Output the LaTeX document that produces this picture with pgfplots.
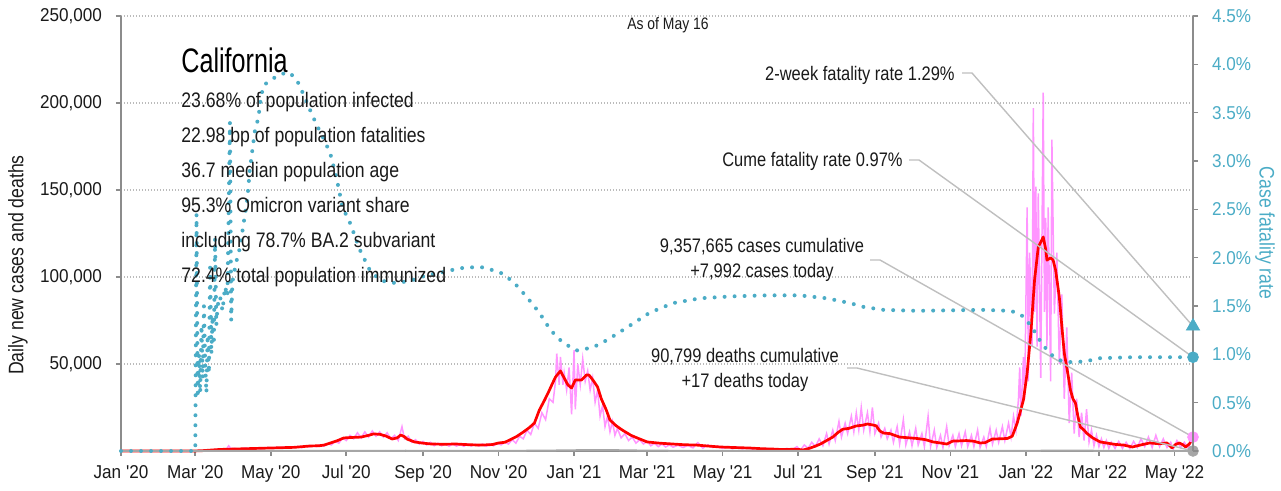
\documentclass[border=0pt]{standalone}
\usepackage{fontspec}
\setmainfont{Liberation Sans}[FakeStretch=0.84]
\newfontfamily\tickfont{Liberation Sans}[FakeStretch=0.92]
\newfontfamily\titlefont{Liberation Sans}[FakeStretch=0.74]
\usepackage{pgfplots}
\pgfplotsset{compat=1.18}
\usepackage{pgfplotstable}

\definecolor{cfrblue}{HTML}{4BACC6}
\definecolor{pinkc}{HTML}{FF95FF}
\definecolor{axgray}{HTML}{8C8C8C}
\definecolor{gridgray}{HTML}{BBBBBB}
\definecolor{leader}{HTML}{BFBFBF}
\definecolor{textc}{HTML}{1A1A1A}
\definecolor{deathgray}{HTML}{A6A6A6}

\pgfplotstableread{
day val
0 0
55 0
60 30
66 200
72 500
78 800
84 1000
90 1100
100 1300
110 1500
120 1700
130 1900
140 2100
153 2900
160 3000
164 3400
170 4800
175 6000
180 7500
187 7800
194 8000
200 9000
204 9800
209 9600
214 8600
219 6900
223 7500
226 9200
229 8200
231 6900
237 5200
244 4500
251 4000
260 3900
271 4000
281 3600
291 3400
300 3700
305 4600
310 5000
314 6300
320 8500
325 10900
330 13500
334 16100
338 23600
342 29000
345 33300
348 38000
351 42500
355 46000
358 42000
361 38000
364 36200
367 40800
372 40800
376 43700
378 43700
381 41000
385 36800
388 30000
392 23600
395 17800
400 14500
405 12000
412 9000
417 7500
425 5200
435 4500
446 4000
455 3600
465 3400
475 2800
484 2300
495 2000
508 1700
518 1300
527 1100
535 800
543 1000
547 900
551 600
556 1500
561 2800
565 4000
570 6000
575 8000
579 10500
583 12500
588 13000
594 14400
599 14800
603 15500
607 15000
610 14500
613 11500
616 10300
621 10000
625 9000
629 8000
636 7600
643 7200
650 6500
656 5200
662 4600
667 4000
672 5700
677 5800
683 6000
689 5600
694 4600
698 4800
704 6900
710 7000
716 7200
720 8500
724 16100
727 24000
729 29300
732 44800
735 67800
738 98300
741 117200
743 120000
745 123000
747 116000
748 109700
751 111000
753 109700
755 104000
758 88500
760 72000
762 56300
765 44000
767 35000
769 30000
771 27600
773 20000
775 13800
778 12000
780 10300
785 7500
791 5200
797 4500
803 3800
810 3400
817 2300
824 3500
831 4600
838 4200
845 4600
849 1700
852 3800
855 4600
858 3500
860 2300
863 4000
866 7500
}\reddata

\pgfplotstableread{
day val
0 0
58 0
62 50
66 150
70 300
74 500
78 900
82 1200
85 900
87 3000
89 1200
92 1500
95 1000
98 1400
101 1700
104 1000
107 1600
110 1800
113 1200
116 1900
119 2000
122 1500
125 2100
128 1700
131 2200
134 1600
137 2300
140 2000
143 2600
146 1900
149 2800
152 2400
155 3000
158 2500
161 3600
164 2800
167 4200
170 3500
173 5500
176 4500
179 7500
182 6000
185 9000
188 7000
191 10500
194 7500
197 11000
200 8000
203 11500
206 8500
209 11000
212 8000
215 10500
218 7000
221 9000
224 6000
227 14000
229 7000
232 8500
235 5000
238 6500
241 4000
244 5500
247 3500
250 5000
253 3000
256 4500
259 3000
262 4000
265 2800
268 4000
271 2800
274 3800
277 2700
280 4000
283 2800
286 3900
289 2800
292 4000
295 2700
298 4200
301 3000
304 4500
307 3500
310 5000
313 4000
316 6500
319 4500
322 8500
325 7000
328 12000
331 9500
334 16000
337 13000
340 22000
343 18000
346 30000
349 28000
351 40000
352 56000
354 38000
355 54000
357 38000
358 45000
360 35000
362 48000
364 21000
366 58000
367 24000
369 50000
371 38000
373 53000
375 40000
377 46000
379 35000
381 42000
383 28000
385 35000
387 20000
389 26000
391 14000
393 20000
395 11000
397 17000
399 9000
401 13000
404 7500
407 10000
410 6000
413 8000
416 4500
419 6500
422 4000
425 5500
428 3000
431 4500
434 2500
437 4000
440 2300
443 3500
446 2200
450 3300
454 2000
458 3200
462 1800
466 4800
470 1600
474 3500
478 2000
482 2800
486 1500
490 2500
494 1300
498 2200
502 1200
506 1900
510 1000
514 1700
518 900
522 1500
526 800
530 1300
534 700
538 1500
542 600
546 2500
549 500
552 3500
555 1500
558 5000
561 2500
564 7000
567 3000
570 10000
572 4000
575 12000
577 6000
580 17000
582 8000
585 16000
587 10000
590 20000
592 11000
594 22000
596 12000
598 25000
600 12000
603 22000
605 11000
607 25000
609 10000
612 16000
614 8000
617 13000
619 7000
622 12000
624 5000
627 14000
629 4000
632 18000
634 3500
637 11000
639 3000
642 13000
644 3500
647 10000
649 2500
652 20000
654 2500
657 12000
659 2000
662 9000
664 2000
667 14000
669 3000
672 9000
674 2500
677 10000
679 3000
682 11000
684 2500
687 9000
689 2500
692 12000
694 2000
697 8000
699 2500
702 13000
704 4000
707 12000
709 5000
712 14000
714 6000
717 16000
719 8000
721 20000
723 12000
725 30000
726 48000
727 20000
729 54000
730 30000
732 140000
733 40000
734 114000
736 60000
737 197000
738 80000
739 152000
740 60000
741 148000
743 42000
745 206000
746 80000
747 134000
748 60000
749 140000
751 40000
752 179000
754 79000
756 114000
758 50000
760 90000
762 30000
764 71000
766 16000
768 45000
770 10000
772 30000
774 8000
776 22000
778 6000
780 24000
782 5000
784 12000
786 3000
788 9000
790 2500
792 7000
794 2000
796 6000
798 1500
800 5000
803 1500
806 5500
809 1500
812 5000
815 1500
818 5500
821 2000
824 7000
827 2500
830 8000
833 2000
836 9000
839 2500
842 7000
845 2000
848 5000
850 1000
853 6000
856 2000
859 5000
862 1500
866 7992
}\pinkdata

\pgfplotstableread{
day val
0 0
60 0
80 40
100 80
130 70
160 60
200 110
230 140
260 100
300 50
340 180
370 450
385 550
400 450
420 250
450 100
500 40
560 15
600 70
650 80
700 50
740 120
760 250
790 120
820 30
866 17
}\deathdata

\pgfplotstableread{
day val
0 0
60 0
61 2.45
62 0.55
63 1.0
64 0.6
65 1.3
66 0.75
67 1.5
68 0.9
69 0.6
70 1.2
71 0.8
72 1.9
73 1.0
74 1.4
75 1.1
76 2.2
77 1.3
78 1.5
80 1.6
82 1.45
84 1.7
86 1.6
88 3.4
89 1.35
90 1.75
93 1.95
96 2.1
99 2.35
102 2.6
104 2.9
106 3.1
108 3.3
111 3.45
113 3.65
115 3.78
120 3.83
125 3.87
130 3.9
135 3.92
139 3.88
142 3.84
147 3.70
151 3.58
155 3.46
159 3.35
163 3.25
169 3.08
174 2.83
179 2.52
185 2.36
193 2.08
201 1.87
209 1.77
217 1.74
225 1.74
236 1.77
245 1.81
255 1.84
260 1.85
270 1.88
279 1.90
292 1.90
306 1.85
317 1.75
328 1.59
338 1.43
347 1.25
357 1.12
368 1.04
381 1.07
393 1.15
409 1.28
427 1.43
446 1.53
468 1.58
494 1.60
522 1.61
548 1.61
570 1.58
589 1.53
600 1.49
616 1.46
643 1.45
696 1.46
718 1.45
724 1.43
729 1.39
736 1.28
742 1.15
750 1.01
758 0.94
765 0.92
772 0.92
780 0.93
791 0.96
817 0.97
845 0.97
866 0.97
}\cfrdata

\pgfplotsset{
  common/.style={
    anchor=origin, at={(0pt,0pt)},
    scale only axis, width=536pt, height=217.5pt,
    xmin=0, xmax=866, clip=false,
    scaled x ticks=false, scaled y ticks=false,
    tick align=outside, major tick length=2.5pt,
    tick style={axgray, line width=0.8pt},
    axis line style={-, draw=axgray, line width=1pt},
    ticklabel style={font=\tickfont\fontsize{9.3}{11}\selectfont},
  }
}

\begin{document}
\begin{tikzpicture}
\begin{scope}[shift={(-60.5pt,225.5pt)}, x=0.5pt, y=-0.5pt]
  \coordinate (A1) at (962,73);  \coordinate (A2) at (972,73);
  \coordinate (B1) at (909,160); \coordinate (B2) at (919,160);
  \coordinate (C1) at (870,260); \coordinate (C2) at (880,260);
  \coordinate (D1) at (847,368); \coordinate (D2) at (857,368);
\end{scope}

\begin{axis}[common,
  ymin=0, ymax=250000,
  axis x line*=bottom, axis y line*=left,
  xtick={0,60,121,182,244,305,366,425,486,547,609,670,731,790,851},
  xticklabels={Jan '20,Mar '20,May '20,Jul '20,Sep '20,Nov '20,Jan '21,Mar '21,May '21,Jul '21,Sep '21,Nov '21,Jan '22,Mar '22,May '22},
  ytick={50000,100000,150000,200000,250000},
  yticklabels={{50,000},{100,000},{150,000},{200,000},{250,000}},
  ymajorgrids,
  grid style={gridgray, line width=0.6pt, dash pattern=on 0.6pt off 0.9pt},
  yticklabel style={text=textc, xshift=-3.5pt},
  xticklabel style={text=textc, yshift=-1pt},
]
\addplot[pinkc, line width=0.75pt] table[x=day,y=val] {\pinkdata};
\addplot[red, line width=1.35pt, line join=round] table[x=day,y=val] {\reddata};
\addplot[deathgray, line width=1pt] table[x=day,y=val] {\deathdata};
\draw[leader, line width=0.7pt] (A1) -- (A2) -- (axis cs:866,71667);
\draw[leader, line width=0.7pt] (B1) -- (B2) -- (axis cs:866,53889);
\draw[leader, line width=0.7pt] (C1) -- (C2) -- (axis cs:866,7992);
\draw[leader, line width=0.7pt] (D1) -- (D2) -- (axis cs:866,17);
\addplot[only marks, mark=*, mark size=2.7pt, pinkc] coordinates {(866,7992)};
\addplot[only marks, mark=*, mark size=2.7pt, deathgray] coordinates {(866,17)};
\end{axis}

\begin{axis}[common,
  ymin=0, ymax=4.5,
  axis y line*=right, axis x line=none,
  xtick=\empty,
  ytick={0,0.5,1,1.5,2,2.5,3,3.5,4,4.5},
  yticklabels={0.0\%,0.5\%,1.0\%,1.5\%,2.0\%,2.5\%,3.0\%,3.5\%,4.0\%,4.5\%},
  yticklabel style={text=cfrblue, xshift=3.5pt},
]
\addplot[cfrblue, line width=2pt, line cap=round, dash pattern=on 0pt off 5pt] table[x=day,y=val] {\cfrdata};
\addplot[only marks, mark=triangle*, mark size=3.8pt, cfrblue] coordinates {(866,1.29)};
\addplot[only marks, mark=*, mark size=2.7pt, cfrblue] coordinates {(866,0.97)};
\end{axis}

\begin{scope}[shift={(-60.5pt,225.5pt)}, x=0.5pt, y=-0.5pt]
  \node[anchor=base west, inner sep=0, text=black] at (181,73) {\titlefont\fontsize{17}{20}\selectfont California};
  \begin{scope}[every node/.style={anchor=base west, inner sep=0, text=textc, font=\fontsize{10.5}{12}\selectfont}]
    \node at (181,108) {23.68\% of population infected};
    \node at (181,143) {22.98 bp of population fatalities};
    \node at (181,178) {36.7 median population age};
    \node at (181,213) {95.3\% Omicron variant share};
    \node at (181,248) {including 78.7\% BA.2 subvariant};
    \node at (181,283) {72.4\% total population immunized};
  \end{scope}
  \begin{scope}[every node/.style={inner sep=0, text=textc, font=\fontsize{9.8}{12}\selectfont}]
    \node[anchor=base east] at (955,81) {2-week fatality rate 1.29\%};
    \node[anchor=base east] at (903,167) {Cume fatality rate 0.97\%};
    \node[anchor=base] at (762,253) {9,357,665 cases cumulative};
    \node[anchor=base] at (762,278) {+7,992 cases today};
    \node[anchor=base] at (745,363) {90,799 deaths cumulative};
    \node[anchor=base] at (745,388) {+17 deaths today};
  \end{scope}
  \node[anchor=base, inner sep=0, text=textc, font=\fontsize{8.3}{10}\selectfont] at (668,30) {As of May 16};
  \node[rotate=90, inner sep=0, text=textc, font=\fontsize{10.5}{12}\selectfont] at (18,265) {Daily new cases and deaths};
  \node[rotate=-90, inner sep=0, text=cfrblue, font=\fontsize{10.5}{12}\selectfont] at (1265,233) {Case fatality rate};
  \pgfresetboundingbox
  \path[use as bounding box] (0,0) rectangle (1281,491);
\end{scope}
\end{tikzpicture}
\end{document}
